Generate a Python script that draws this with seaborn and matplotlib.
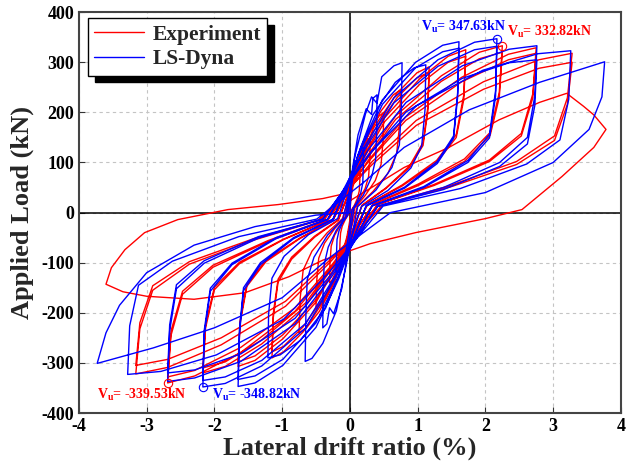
import pandas as pd
import numpy as np
import matplotlib
matplotlib.use("Agg")
import matplotlib.pyplot as plt
import seaborn as sns

# Experiment hysteresis path (drift %, load kN), cycle by cycle
exp_drift = [0.0,
    0.015, 0.045, 0.09, 0.128, 0.15, 0.147, 0.138, 0.113, 0.068, 0.023,
    -0.015, -0.045, -0.09, -0.128, -0.15, -0.147, -0.138, -0.113, -0.068, -0.023,
    0.03, 0.09, 0.18, 0.255, 0.3, 0.294, 0.276, 0.225, 0.135, 0.045,
    -0.03, -0.09, -0.18, -0.255, -0.3, -0.294, -0.276, -0.225, -0.135, -0.045,
    0.05, 0.15, 0.30, 0.425, 0.5, 0.49, 0.46, 0.375, 0.225, 0.075,
    -0.05, -0.15, -0.30, -0.425, -0.5, -0.49, -0.46, -0.375, -0.225, -0.075,
    0.075, 0.225, 0.45, 0.64, 0.75, 0.735, 0.69, 0.56, 0.34, 0.11,
    -0.075, -0.225, -0.45, -0.64, -0.75, -0.735, -0.69, -0.56, -0.34, -0.11,
    0.12, 0.35, 0.70, 0.99, 1.17, 1.15, 1.08, 0.88, 0.53, 0.18,
    -0.115, -0.345, -0.69, -0.98, -1.15, -1.13, -1.06, -0.86, -0.52, -0.17,
    0.12, 0.35, 0.70, 0.99, 1.17, 1.15, 1.08, 0.88, 0.53, 0.18,
    -0.115, -0.345, -0.69, -0.98, -1.15, -1.13, -1.06, -0.86, -0.52, -0.17,
    0.17, 0.51, 1.03, 1.45, 1.71, 1.68, 1.57, 1.28, 0.77, 0.26,
    -0.165, -0.495, -0.99, -1.40, -1.65, -1.62, -1.52, -1.24, -0.74, -0.25,
    0.17, 0.51, 1.03, 1.45, 1.71, 1.68, 1.57, 1.28, 0.77, 0.26,
    -0.165, -0.495, -0.99, -1.40, -1.65, -1.62, -1.52, -1.24, -0.74, -0.25,
    0.225, 0.675, 1.35, 1.91, 2.25, 2.205, 2.07, 1.69, 1.01, 0.34,
    -0.217, -0.651, -1.30, -1.84, -2.17, -2.13, -2.00, -1.63, -0.98, -0.33,
    0.225, 0.675, 1.35, 1.91, 2.25, 2.205, 2.07, 1.69, 1.01, 0.34,
    -0.217, -0.651, -1.30, -1.84, -2.17, -2.13, -2.00, -1.63, -0.98, -0.33,
    0.275, 0.825, 1.65, 2.34, 2.75, 2.70, 2.53, 2.06, 1.24, 0.41,
    -0.27, -0.81, -1.61, -2.29, -2.69, -2.64, -2.47, -2.02, -1.21, -0.40,
    0.275, 0.825, 1.65, 2.34, 2.75, 2.70, 2.53, 2.06, 1.24, 0.41,
    -0.27, -0.81, -1.61, -2.29, -2.69, -2.64, -2.47, -2.02, -1.21, -0.40,
    0.33, 0.98, 1.97, 2.79, 3.28, 3.21, 3.02, 2.46, 1.48, 0.49,
    -0.32, -0.95, -1.90, -2.69, -3.16, -3.10, -2.91, -2.37, -1.42, -0.47,
    0.33, 0.98, 1.97, 2.79, 3.28, 3.21, 3.02, 2.46, 1.48, 0.49,
    -0.32, -0.95, -1.90, -2.69, -3.16, -3.10, -2.91, -2.37, -1.42, -0.47,
    0.2, 0.8, 1.46, 2.2, 2.8, 3.2, 3.45, 3.6, 3.78, 3.6, 3.13, 2.54, 2.0, 0.97, 0.3,
    -0.4, -0.9, -1.55, -2.3, -3.0, -3.35, -3.6, -3.52, -3.32, -3.03, -2.54, -1.8, -1.06, -0.4, 0.0]

exp_load = [0,
    29, 52, 74, 86, 90, 65, 43, 29, 15, 5,
    -27, -49, -70, -82, -85, -61, -41, -27, -14, -4,
    48, 87, 123, 144, 150, 108, 72, 48, 26, 8,
    -45, -81, -115, -134, -140, -101, -67, -45, -24, -7,
    64, 116, 164, 192, 200, 144, 96, 64, 34, 10,
    -61, -110, -156, -182, -190, -137, -91, -61, -32, -10,
    78, 142, 201, 235, 245, 176, 118, 78, 42, 12,
    -77, -139, -197, -230, -240, -173, -115, -77, -41, -12,
    93, 169, 239, 279, 291, 210, 140, 93, 49, 15,
    -93, -168, -238, -278, -290, -209, -139, -93, -49, -15,
    90, 162, 230, 269, 280, 202, 134, 90, 48, 14,
    -89, -161, -228, -267, -278, -200, -133, -89, -47, -14,
    104, 189, 267, 312, 325, 234, 156, 104, 55, 16,
    -98, -178, -252, -295, -307, -221, -147, -98, -52, -15,
    100, 181, 256, 300, 312, 225, 150, 100, 53, 16,
    -95, -173, -244, -286, -298, -215, -143, -95, -51, -15,
    107, 193, 273, 320, 333, 240, 160, 107, 57, 17,
    -102, -186, -262, -307, -320, -230, -154, -102, -54, -16,
    102, 186, 262, 307, 320, 230, 154, 102, 54, 16,
    -99, -180, -254, -298, -310, -223, -149, -99, -53, -16,
    105, 191, 270, 316, 329, 237, 158, 105, 56, 16,
    -109, -197, -279, -326, -340, -245, -163, -109, -58, -17,
    102, 184, 261, 305, 318, 229, 153, 102, 54, 16,
    -105, -190, -269, -315, -328, -236, -157, -105, -56, -16,
    102, 184, 261, 305, 318, 229, 153, 102, 54, 16,
    -103, -187, -264, -309, -322, -232, -155, -103, -55, -16,
    96, 174, 246, 288, 300, 216, 144, 96, 51, 15,
    -98, -177, -250, -293, -305, -220, -146, -98, -52, -15,
    40, 90, 130, 185, 220, 238, 212, 195, 166, 130, 72, 6, -12, -40, -62,
    -95, -128, -160, -173, -167, -158, -143, -110, -74, -40, -14, 6, 16, 28, 40]

# LS-Dyna hysteresis path
dyna_drift = [0.0,
    0.02, 0.06, 0.12, 0.17, 0.2, 0.198, 0.19, 0.16, 0.10, 0.03,
    -0.02, -0.06, -0.12, -0.17, -0.2, -0.198, -0.19, -0.16, -0.10, -0.03,
    0.04, 0.12, 0.24, 0.32, 0.34, 0.4, 0.396, 0.38, 0.32, 0.20, 0.06,
    -0.04, -0.12, -0.24, -0.30, -0.34, -0.4, -0.396, -0.38, -0.32, -0.20, -0.06,
    0.077, 0.23, 0.32, 0.40, 0.47, 0.65, 0.77, 0.76, 0.73, 0.62, 0.385, 0.115,
    -0.066, -0.20, -0.40, -0.56, -0.66, -0.65, -0.63, -0.53, -0.33, -0.10,
    0.11, 0.34, 0.67, 0.95, 1.12, 1.11, 1.06, 0.90, 0.56, 0.17,
    -0.12, -0.36, -0.73, -1.03, -1.21, -1.20, -1.15, -0.97, -0.61, -0.18,
    0.16, 0.48, 0.97, 1.37, 1.61, 1.59, 1.53, 1.29, 0.81, 0.24,
    -0.165, -0.50, -0.99, -1.40, -1.65, -1.63, -1.57, -1.32, -0.83, -0.25,
    0.16, 0.48, 0.97, 1.37, 1.61, 1.59, 1.53, 1.29, 0.81, 0.24,
    -0.165, -0.50, -0.99, -1.40, -1.65, -1.63, -1.57, -1.32, -0.83, -0.25,
    0.22, 0.65, 1.30, 1.84, 2.17, 2.15, 2.06, 1.74, 1.09, 0.33,
    -0.22, -0.65, -1.30, -1.84, -2.17, -2.15, -2.06, -1.74, -1.09, -0.33,
    0.22, 0.65, 1.30, 1.84, 2.17, 2.15, 2.06, 1.74, 1.09, 0.33,
    -0.22, -0.65, -1.30, -1.84, -2.17, -2.15, -2.06, -1.74, -1.09, -0.33,
    0.28, 0.83, 1.66, 2.35, 2.76, 2.73, 2.62, 2.21, 1.38, 0.41,
    -0.27, -0.81, -1.61, -2.29, -2.69, -2.66, -2.56, -2.15, -1.35, -0.40,
    0.28, 0.83, 1.66, 2.35, 2.76, 2.73, 2.62, 2.21, 1.38, 0.41,
    -0.27, -0.81, -1.61, -2.29, -2.69, -2.66, -2.56, -2.15, -1.35, -0.40,
    0.33, 0.98, 1.96, 2.77, 3.26, 3.23, 3.10, 2.61, 1.63, 0.49,
    -0.33, -0.98, -1.97, -2.79, -3.28, -3.25, -3.12, -2.62, -1.64, -0.49,
    0.2, 0.8, 1.76, 2.8, 3.76, 3.72, 3.53, 3.0, 2.0, 0.6,
    -0.3, -1.0, -2.0, -2.9, -3.73, -3.6, -3.4, -3.0, -2.3, -1.4, -0.5, 0.0]

dyna_load = [0,
    49, 86, 114, 127, 130, 91, 59, 39, 20, 5,
    -46, -79, -106, -118, -120, -84, -54, -36, -18, -5,
    89, 155, 207, 196, 228, 235, 165, 106, 71, 35, 9,
    -87, -152, -202, -190, -222, -230, -161, -104, -69, -35, -9,
    114, 197, 231, 218, 271, 293, 299, 209, 135, 90, 45, 12,
    -113, -196, -261, -291, -297, -208, -134, -89, -45, -12,
    112, 195, 260, 289, 295, 207, 133, 89, 44, 12,
    -110, -191, -255, -284, -290, -203, -131, -87, -44, -12,
    130, 225, 300, 334, 341, 239, 153, 102, 51, 14,
    -132, -229, -305, -340, -347, -243, -156, -104, -52, -14,
    125, 216, 289, 321, 328, 230, 148, 98, 49, 13,
    -127, -220, -293, -326, -333, -233, -150, -100, -50, -13,
    132, 229, 305, 340, 347, 243, 156, 104, 52, 14,
    -132, -230, -306, -341, -348, -244, -157, -104, -52, -14,
    126, 219, 292, 325, 332, 232, 149, 100, 50, 13,
    -127, -221, -295, -328, -335, -235, -151, -101, -50, -13,
    127, 220, 293, 326, 333, 233, 150, 100, 50, 13,
    -128, -222, -297, -330, -337, -236, -152, -101, -51, -13,
    116, 201, 268, 299, 305, 214, 137, 92, 46, 12,
    -122, -211, -282, -314, -320, -224, -144, -96, -48, -13,
    123, 213, 284, 317, 323, 226, 145, 97, 48, 13,
    -123, -213, -284, -317, -323, -226, -145, -97, -48, -13,
    60, 130, 205, 260, 301, 231, 166, 100, 40, 0,
    -90, -170, -230, -270, -301, -240, -185, -120, -65, -28, -5, 0]

exp_peak_text = ["V$_\\mathregular{u}$= 332.82kN", "V$_\\mathregular{u}$= -339.53kN"]
dyna_peak_text = ["V$_\\mathregular{u}$= 347.63kN", "V$_\\mathregular{u}$= -348.82kN"]

df = pd.concat([
    pd.DataFrame({"drift": exp_drift, "load": exp_load, "src": "Experiment"}),
    pd.DataFrame({"drift": dyna_drift, "load": dyna_load, "src": "LS-Dyna"}),
], ignore_index=True)

sns.set_style("ticks")
plt.rcParams["font.family"] = ["Liberation Serif", "DejaVu Serif"]
plt.rcParams["font.weight"] = "bold"
plt.rcParams["mathtext.fontset"] = "custom"
plt.rcParams["mathtext.rm"] = "Liberation Serif:bold"
plt.rcParams["axes.unicode_minus"] = False

fig = plt.figure(figsize=(6.31, 4.68), dpi=100)
ax = fig.add_axes([0.125, 0.1175, 0.859, 0.8565])

ax.grid(True, linestyle=(0, (3, 3)), color="#c4c4c4", linewidth=0.8)
ax.axhline(0, color="black", lw=1.1, zorder=1)
ax.axvline(0, color="black", lw=1.1, zorder=1)

sns.lineplot(data=df, x="drift", y="load", hue="src", sort=False, estimator=None,
             palette={"Experiment": "#ff0000", "LS-Dyna": "#0000ff"}, linewidth=1.0, ax=ax)

# circles at the peak values
e_load = np.array(exp_load); e_drift = np.array(exp_drift)
d_load = np.array(dyna_load); d_drift = np.array(dyna_drift)
for xs, ys, c in [(e_drift, e_load, "#ff0000"), (d_drift, d_load, "#0000ff")]:
    for i in [ys.argmax(), ys.argmin()]:
        ax.plot(xs[i], ys[i], "o", mfc="none", mec=c, ms=6, mew=0.8)

ax.text(1.05, 371, dyna_peak_text[0], color="#0000ff", fontsize=10, fontweight="bold", va="center")
ax.text(2.32, 361, exp_peak_text[0], color="#ff0000", fontsize=10, fontweight="bold", va="center")
ax.text(-3.73, -363, exp_peak_text[1], color="#ff0000", fontsize=10, fontweight="bold", va="center")
ax.text(-2.04, -363, dyna_peak_text[1], color="#0000ff", fontsize=10, fontweight="bold", va="center")

ax.set_xlim(-4, 4)
ax.set_ylim(-400, 400)
ax.set_xticks(range(-4, 5))
ax.set_yticks(range(-400, 401, 100))
ax.tick_params(direction="in", length=4, labelsize=13, colors="#333333", labelcolor="black")
for lab in ax.get_xticklabels() + ax.get_yticklabels():
    lab.set_fontweight("bold")
for sp in ax.spines.values():
    sp.set_color("#444444")
    sp.set_linewidth(1.5)

ax.set_xlabel("Lateral drift ratio (%)", fontsize=19, fontweight="bold", va="center")
ax.set_ylabel("Applied Load (kN)", fontsize=19, fontweight="bold", va="center")
ax.xaxis.set_label_coords(0.5, -0.087)
ax.yaxis.set_label_coords(-0.105, 0.5)

leg = ax.legend(loc="upper left", bbox_to_anchor=(0.0166, 0.985), borderaxespad=0,
                fontsize=15.5, frameon=True, fancybox=False,
                shadow={"color": "black", "alpha": 1, "ox": 5, "oy": -5},
                edgecolor="black", framealpha=1, handlelength=2.3, handletextpad=0.4,
                borderpad=0.3, labelspacing=0.2)
leg.get_frame().set_linewidth(1.0)
for t in leg.get_texts():
    t.set_fontweight("bold")
leg.set_title(None)

fig.savefig("out.png", dpi=100)
